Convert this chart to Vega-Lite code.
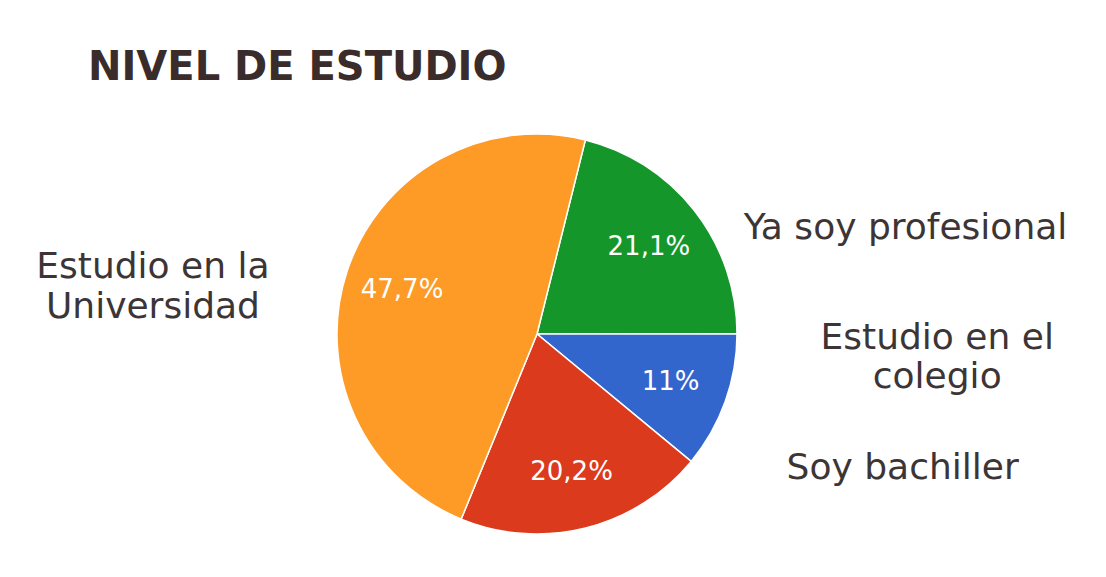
{
  "$schema": "https://vega.github.io/schema/vega-lite/v6.json",
  "width": 1074,
  "height": 468,
  "autosize": {"type": "none"},
  "padding": {"left": 0, "top": 100, "right": 32, "bottom": 9},
  "background": "white",
  "title": {
    "text": "NIVEL DE ESTUDIO",
    "anchor": "start",
    "dx": 88,
    "offset": 12,
    "font": "DejaVu Sans",
    "fontSize": 40,
    "fontWeight": "bold",
    "color": "#3a2c2a"
  },
  "data": {
    "values": [
      {"nivel": "Ya soy profesional", "rotulo": "Ya soy profesional", "pct": 21.1, "etiqueta": "21,1%", "orden": 1},
      {"nivel": "Estudio en el colegio", "rotulo": "Estudio en el\ncolegio", "pct": 11.0, "etiqueta": "11%", "orden": 2},
      {"nivel": "Soy bachiller", "rotulo": "Soy bachiller", "pct": 20.2, "etiqueta": "20,2%", "orden": 3},
      {"nivel": "Estudio en la Universidad", "rotulo": "Estudio en la\nUniversidad", "pct": 47.7, "etiqueta": "47,7%", "orden": 4}
    ]
  },
  "encoding": {
    "theta": {"field": "pct", "type": "quantitative", "stack": true, "scale": {"range": [0.2443, 6.5275]}},
    "order": {"field": "orden", "type": "quantitative"},
    "color": {
      "field": "nivel",
      "type": "nominal",
      "scale": {
        "domain": ["Ya soy profesional", "Estudio en el colegio", "Soy bachiller", "Estudio en la Universidad"],
        "range": ["#15962A", "#3366CC", "#DC3A1C", "#FE9A26"]
      },
      "legend": null
    }
  },
  "layer": [
    {"mark": {"type": "arc", "outerRadius": 200, "stroke": "white", "strokeWidth": 1.5}},
    {
      "mark": {"type": "text", "radius": 142, "font": "DejaVu Sans", "fontSize": 26, "align": "center", "baseline": "middle"},
      "encoding": {"text": {"field": "etiqueta", "type": "nominal"}, "color": {"value": "white"}}
    },
    {
      "mark": {"type": "text", "radius": 200, "dx": 211, "dy": 17, "font": "DejaVu Sans", "fontSize": 36, "lineHeight": 39, "lineBreak": "\n", "align": "center", "baseline": "middle"},
      "encoding": {"text": {"condition": {"test": "datum.nivel === 'Ya soy profesional'", "field": "rotulo", "type": "nominal"}, "value": ""}, "color": {"value": "#3d3535"}}
    },
    {
      "mark": {"type": "text", "radius": 200, "dx": 212, "dy": -64, "font": "DejaVu Sans", "fontSize": 36, "lineHeight": 39, "lineBreak": "\n", "align": "center", "baseline": "middle"},
      "encoding": {"text": {"condition": {"test": "datum.nivel === 'Estudio en el colegio'", "field": "rotulo", "type": "nominal"}, "value": ""}, "color": {"value": "#3d3535"}}
    },
    {
      "mark": {"type": "text", "radius": 200, "dx": 317, "dy": -60, "font": "DejaVu Sans", "fontSize": 36, "lineHeight": 39, "lineBreak": "\n", "align": "center", "baseline": "middle"},
      "encoding": {"text": {"condition": {"test": "datum.nivel === 'Soy bachiller'", "field": "rotulo", "type": "nominal"}, "value": ""}, "color": {"value": "#3d3535"}}
    },
    {
      "mark": {"type": "text", "radius": 200, "dx": -194, "dy": -5, "font": "DejaVu Sans", "fontSize": 36, "lineHeight": 40, "lineBreak": "\n", "align": "center", "baseline": "middle"},
      "encoding": {"text": {"condition": {"test": "datum.nivel === 'Estudio en la Universidad'", "field": "rotulo", "type": "nominal"}, "value": ""}, "color": {"value": "#3d3535"}}
    }
  ],
  "config": {"view": {"stroke": null}}
}
